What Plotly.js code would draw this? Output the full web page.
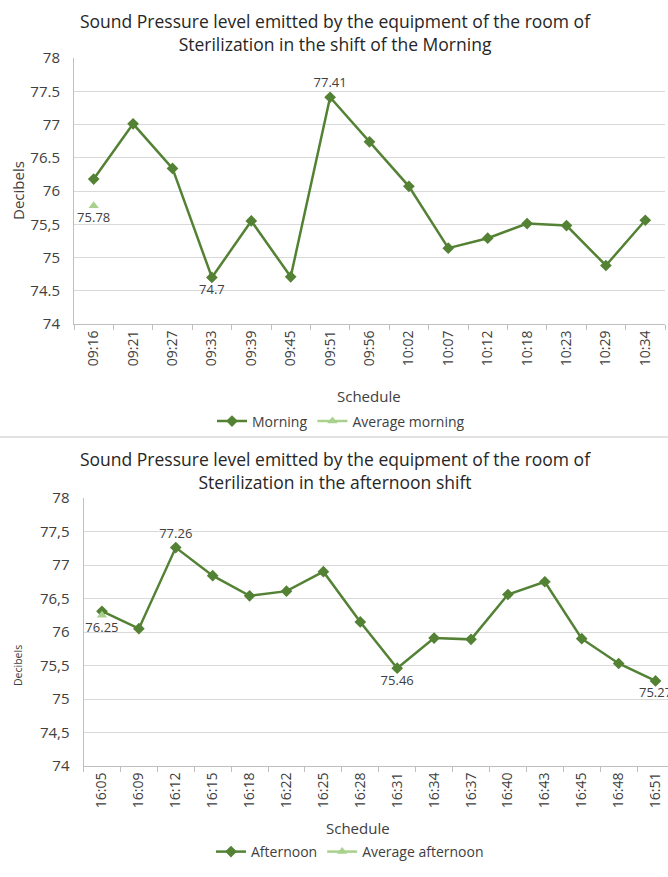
<!DOCTYPE html>
<html>
<head>
<meta charset="utf-8">
<script src="https://cdn.plot.ly/plotly-3.0.1.min.js"></script>
<style>
html,body{margin:0;padding:0;overflow:hidden;background:#fff;}
#chart{width:680px;height:877px;}
</style>
</head>
<body>
<div id="chart"></div>
<script>
// ---- data ----
const morningTimes = ["09:16","09:21","09:27","09:33","09:39","09:45","09:51","09:56","10:02","10:07","10:12","10:18","10:23","10:29","10:34"];
const morningValues = [76.18,77.01,76.34,74.70,75.55,74.71,77.41,76.74,76.07,75.14,75.29,75.51,75.48,74.88,75.56];
const morningAverage = 75.78;
const morningLabelAbove = [6];
const morningLabelBelow = [3];

const afternoonTimes = ["16:05","16:09","16:12","16:15","16:18","16:22","16:25","16:28","16:31","16:34","16:37","16:40","16:43","16:45","16:48","16:51"];
const afternoonValues = [76.31,76.05,77.26,76.84,76.54,76.61,76.90,76.15,75.46,75.91,75.89,76.56,76.75,75.90,75.53,75.27];
const afternoonAverage = 76.25;
const afternoonLabelAbove = [2];
const afternoonLabelBelow = [8,15];

const yTickVals = [74,74.5,75,75.5,76,76.5,77,77.5,78];
const yTickTextTop = ["74","74.5","75","75,5","76","76.5","77","77.5","78"];
const yTickTextBottom = ["74","74,5","75","75,5","76","76,5","77","77,5","78"];

// ---- layout helpers ----
const W = 680, H = 877;
const px = v => v / W;
const py = v => 1 - v / H;

const GREEN = "#548235";
const LIGHT = "#a9d18e";
const TXT = "#404040";
const FONT = "Open Sans";

function fmt(v){ return v.toFixed(2).replace(/0$/,"").replace(/\.$/,""); }
function labels(vals, above, below){
  const t = vals.map(()=>"");
  const p = vals.map(()=>"top center");
  above.forEach(i=>{t[i]=fmt(vals[i]); p[i]="top center";});
  below.forEach(i=>{t[i]=fmt(vals[i]); p[i]="bottom center";});
  return {t,p};
}
const mL = labels(morningValues, morningLabelAbove, morningLabelBelow);
const aL = labels(afternoonValues, afternoonLabelAbove, afternoonLabelBelow);

const traces = [
  {x: morningTimes, y: morningValues, name: "Morning", type: "scatter", mode: "lines+markers+text",
   text: mL.t, textposition: mL.p, textfont:{family:FONT,size:13,color:TXT},
   line:{color:GREEN,width:2.5}, marker:{symbol:"diamond",size:9,color:GREEN},
   xaxis:"x", yaxis:"y", legend:"legend", cliponaxis:false},
  {x: [morningTimes[0]], y: [morningAverage], name: "Average morning", type: "scatter", mode: "lines+markers+text",
   text: [fmt(morningAverage)], textposition: "bottom center", textfont:{family:FONT,size:13,color:TXT},
   line:{color:LIGHT,width:2.5}, marker:{symbol:"triangle-up",size:9,color:LIGHT},
   xaxis:"x", yaxis:"y", legend:"legend", cliponaxis:false},
  {x: afternoonTimes, y: afternoonValues, name: "Afternoon", type: "scatter", mode: "lines+markers+text",
   text: aL.t, textposition: aL.p, textfont:{family:FONT,size:13,color:TXT},
   line:{color:GREEN,width:2.5}, marker:{symbol:"diamond",size:9,color:GREEN},
   xaxis:"x2", yaxis:"y2", legend:"legend2", cliponaxis:false},
  {x: [afternoonTimes[0]], y: [afternoonAverage], name: "Average afternoon", type: "scatter", mode: "lines+markers+text",
   text: [fmt(afternoonAverage)], textposition: "bottom center", textfont:{family:FONT,size:13,color:TXT},
   line:{color:LIGHT,width:2.5}, marker:{symbol:"triangle-up",size:9,color:LIGHT},
   xaxis:"x2", yaxis:"y2", legend:"legend2", cliponaxis:false}
];

function xAxis(domain, anchor, n){
  return {domain: domain, anchor: anchor, type:"category", range:[-0.5, n-0.5],
    tickangle:-90, tickfont:{family:FONT,size:14,color:"#404040"},
    ticks:"outside", tickson:"boundaries", ticklen:5, tickcolor:"#bfbfbf",
    showline:true, linecolor:"#bfbfbf", linewidth:1, showgrid:false, zeroline:false, fixedrange:true};
}
function yAxis(domain, anchor, ticktext){
  return {domain: domain, anchor: anchor, range:[74,78], tickvals:yTickVals, ticktext:ticktext,
    tickfont:{family:FONT,size:15,color:"#404040"}, ticks:"", showline:true, linecolor:"#bfbfbf", linewidth:1,
    showgrid:true, gridcolor:"#d9d9d9", gridwidth:1, zeroline:false, fixedrange:true, ticklabelstandoff:10};
}

const layout = {
  width: W, height: H, margin:{l:0,r:0,t:0,b:0}, paper_bgcolor:"#fff", plot_bgcolor:"#fff",
  font:{family:FONT,color:TXT},
  xaxis: xAxis([px(74), px(665)], "y", morningTimes.length),
  yaxis: yAxis([py(324), py(58)], "x", yTickTextTop),
  xaxis2: xAxis([px(83.5), px(674)], "y2", afternoonTimes.length),
  yaxis2: yAxis([py(766), py(498)], "x2", yTickTextBottom),
  legend: {orientation:"h", x:px(212), y:py(421.5), xanchor:"left", yanchor:"middle",
    font:{family:FONT,size:14,color:TXT}, bgcolor:"rgba(0,0,0,0)", itemwidth:30, tracegroupgap:0},
  legend2: {orientation:"h", x:px(211), y:py(852), xanchor:"left", yanchor:"middle",
    font:{family:FONT,size:14,color:TXT}, bgcolor:"rgba(0,0,0,0)", itemwidth:30, tracegroupgap:0},
  showlegend:true,
  shapes:[{type:"line", xref:"paper", yref:"paper", x0:0, x1:1, y0:py(437), y1:py(437), line:{color:"#d9d9d9",width:1.5}}],
  annotations:[
    {text:"Sound Pressure level emitted by the equipment of the room of<br>Sterilization in the shift of the Morning",
     xref:"paper", yref:"paper", x:px(335), y:py(33), xanchor:"center", yanchor:"middle", showarrow:false,
     font:{family:FONT,size:17.5,color:"#262626"}},
    {text:"Decibels", xref:"paper", yref:"paper", x:px(18), y:py(191), textangle:-90, xanchor:"center", yanchor:"middle",
     showarrow:false, font:{family:FONT,size:15,color:TXT}},
    {text:"Schedule", xref:"paper", yref:"paper", x:px(369), y:py(396), xanchor:"center", yanchor:"middle",
     showarrow:false, font:{family:FONT,size:15,color:TXT}},
    {text:"Sound Pressure level emitted by the equipment of the room of<br>Sterilization in the afternoon shift",
     xref:"paper", yref:"paper", x:px(335), y:py(470), xanchor:"center", yanchor:"middle", showarrow:false,
     font:{family:FONT,size:17.5,color:"#262626"}},
    {text:"Decibels", xref:"paper", yref:"paper", x:px(18), y:py(666), textangle:-90, xanchor:"center", yanchor:"middle",
     showarrow:false, font:{family:FONT,size:10.5,color:TXT}},
    {text:"Schedule", xref:"paper", yref:"paper", x:px(358), y:py(828), xanchor:"center", yanchor:"middle",
     showarrow:false, font:{family:FONT,size:15,color:TXT}}
  ]
};

Plotly.newPlot("chart", traces, layout, {displayModeBar:false, staticPlot:true});
</script>
</body>
</html>
